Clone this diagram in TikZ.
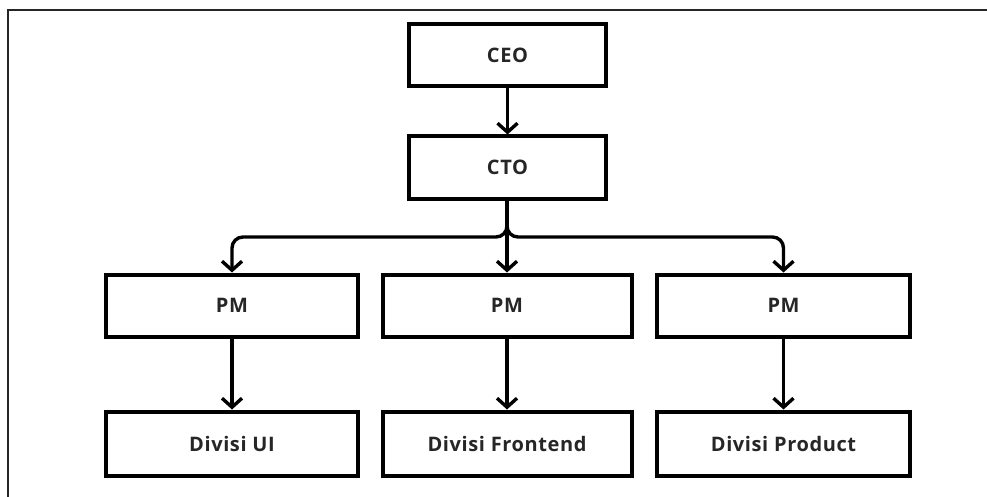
\documentclass[tikz,border=0pt]{standalone}
\usepackage{fontspec}
\setmainfont{Open Sans}
\usetikzlibrary{arrows.meta}
\begin{document}
\begin{tikzpicture}[x=1pt,y=-1pt,
  box/.style={draw=black, fill=white, line width=4pt, inner sep=0pt,
    minimum width=#1, minimum height=62pt,
    font=\bfseries\fontsize{20}{24}\selectfont\addfontfeatures{LetterSpace=3},
    text=black!85},
  box/.default=197pt,
  link/.style={draw=black, line width=3.4pt,
    -{Straight Barb[length=9pt,width=20pt,line width=3.4pt]}},
  frameline/.style={draw=black!85, line width=2pt}
]
\useasboundingbox (0,0) rectangle (987,497);

% outer frame, only top and left edges visible
\coordinate (ftop) at (987,10);
\coordinate (fcorner) at (8,10);
\coordinate (fbottom) at (8,497);
\draw[frameline] (ftop) -- (fcorner) -- (fbottom);

% management chain
\node[box] (ceo) at (507.5,55) {CEO};
\node[box] (cto) at (507.5,167.5) {CTO};

% project managers
\node[box=252pt] (pm1) at (232,305.5) {PM};
\node[box=249pt] (pm2) at (507,305.5) {PM};
\node[box=253pt] (pm3) at (783.5,305.5) {PM};

% divisions
\node[box=252pt, minimum height=64pt] (d1) at (232,443.5) {Divisi UI};
\node[box=249pt, minimum height=64pt] (d2) at (507,443.5) {Divisi Frontend};
\node[box=253pt, minimum height=64pt] (d3) at (783.5,443.5) {Divisi Product};

% connectors
\coordinate (bus) at (507,237);
\draw[link] (ceo) -- (cto);
\draw[link] (cto.south -| pm2.north) -- (pm2.north);
\draw[link, rounded corners=11pt] (cto.south -| pm2.north) -- (bus) -| (pm1.north);
\draw[link, rounded corners=11pt] (cto.south -| pm2.north) -- (bus) -| (pm3.north);
\draw[link] (pm1) -- (d1);
\draw[link] (pm2) -- (d2);
\draw[link] (pm3) -- (d3);
\end{tikzpicture}
\end{document}
